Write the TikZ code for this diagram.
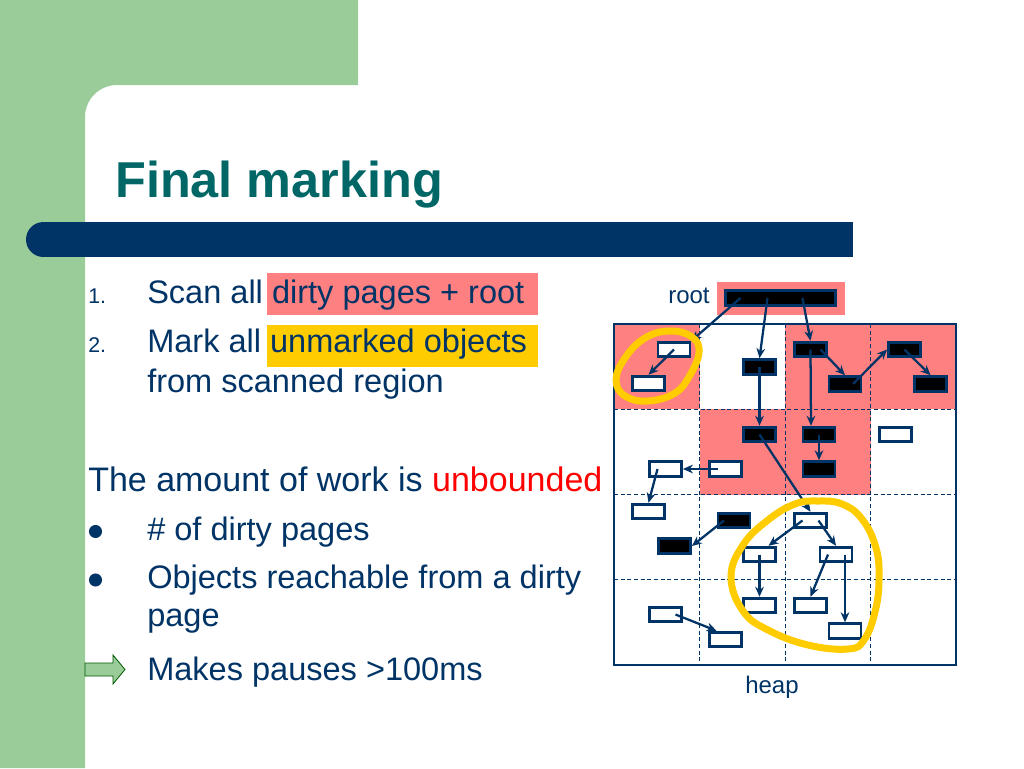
\documentclass[tikz,border=0pt]{standalone}
\usepackage{fontspec}
\setmainfont{Liberation Sans}
\usetikzlibrary{calc,arrows.meta}
\definecolor{bggreen}{HTML}{99CC99}
\definecolor{navy}{HTML}{003366}
\definecolor{titleteal}{HTML}{006666}
\definecolor{pinkhl}{HTML}{FF8080}
\definecolor{yellowhl}{HTML}{FFCC00}
\definecolor{redtxt}{HTML}{FF0000}
\begin{document}
\begin{tikzpicture}[x=0.75pt,y=-0.75pt,
  body/.style={anchor=base west, inner sep=0pt, text=navy, font=\fontsize{25.5}{30}\selectfont},
  item/.style={anchor=base west, inner sep=0pt, text=navy, font=\fontsize{24.4}{29}\selectfont},
  num/.style={anchor=base west, inner sep=0pt, text=navy, font=\fontsize{16}{19}\selectfont},
  lbl/.style={anchor=base west, inner sep=0pt, text=navy, font=\fontsize{18}{21}\selectfont},
  obj/.style={draw=navy, line width=2.1pt, minimum width=24pt, minimum height=11pt, inner sep=0pt, fill=white},
  mobj/.style={obj, fill=black},
  arr/.style={draw=navy, line width=1.7pt, -{Stealth[length=7.5pt,width=6.5pt]}},
  ring/.style={draw=yellowhl, line width=5.25pt},
  gridin/.style={draw=navy, line width=0.75pt, dash pattern=on 3pt off 2pt}]
\useasboundingbox (0,0) rectangle (1024,768);
% background
\fill[white] (0,0) rectangle (1024,768);
\fill[bggreen] (0,0) -- (358,0) -- (358,85) -- (117,85) arc[start angle=90, end angle=180, radius=24pt] -- (85,768) -- (0,768) -- cycle;
% bar
\fill[navy] (43.5,222) rectangle (853,257);
\fill[navy] (43.5,239.5) circle[radius=13.125pt];
% title
\node[anchor=base west, inner sep=0pt, text=titleteal, font=\fontsize{37.8}{44}\selectfont\bfseries] (title) at (115,197) {Final marking};
% highlights
\fill[pinkhl] (267,273) rectangle (538,315);
\fill[yellowhl] (267,325) rectangle (538,367);
% text
\node[num] (n1) at (88,303) {1.};
\node[item] (t1) at (147,303) {Scan all dirty pages + root};
\node[num] (n2) at (88,352) {2.};
\node[item] (t2) at (147,352) {Mark all unmarked objects};
\node[item] (t3) at (147,392) {from scanned region};
\node[body] (t4) at (88,491) {The amount of work is \textcolor{redtxt}{unbounded}};
\fill[navy] (95.5,531.5) circle[radius=4.9pt];
\node[item] (t5) at (147,540) {\# of dirty pages};
\fill[navy] (95.5,580) circle[radius=4.9pt];
\node[item] (t6) at (147,588) {Objects reachable from a dirty};
\node[item] (t7) at (147,626) {page};
\draw[fill=bggreen, draw=green!35!black, line width=0.6pt] (85,663) -- (113,663) -- (113,655) -- (125,669.5) -- (113,684) -- (113,676) -- (85,676) -- cycle;
\node[item] (t8) at (147,680) {Makes pauses >100ms};
% heap grid
\fill[pinkhl] (614,324) rectangle (699.5,409.25);
\fill[pinkhl] (785,324) rectangle (956,409.25);
\fill[pinkhl] (699.5,409.25) rectangle (870.5,494.5);
\draw[gridin] (699.5,324) -- (699.5,665);
\draw[gridin] (785,324) -- (785,665);
\draw[gridin] (870.5,324) -- (870.5,665);
\draw[gridin] (614,409.25) -- (956,409.25);
\draw[gridin] (614,494.5) -- (956,494.5);
\draw[gridin] (614,579.75) -- (956,579.75);
\draw[navy, line width=1.6pt] (614,324) rectangle (956,665);
% labels
\node[lbl] (rootlbl) at (668,303) {root};
\node[lbl] (heaplbl) at (745,693) {heap};
% root
\node[fill=pinkhl, minimum width=96pt, minimum height=24.75pt, inner sep=0pt] (rootbg) at (781,298.5) {};
\node[mobj, minimum width=82.5pt] (root) at (780.5,298) {};
% objects
\node[obj]  (A) at (674,349.5) {};
\node[obj]  (B) at (648.5,383.5) {};
\node[mobj] (C) at (759.5,367) {};
\node[mobj] (D) at (810.5,349.5) {};
\node[mobj] (E) at (845,384) {};
\node[mobj] (F) at (904.5,349.5) {};
\node[mobj] (G) at (930.5,384) {};
\node[mobj] (H) at (759.5,434.5) {};
\node[mobj] (I) at (819,434.5) {};
\node[obj]  (J) at (895.5,434.5) {};
\node[mobj] (K) at (819,469) {};
\node[obj]  (L) at (665.5,469) {};
\node[obj]  (M) at (725.5,469) {};
\node[obj]  (N) at (648.5,511.5) {};
\node[mobj] (O) at (734,520.5) {};
\node[mobj] (P) at (674.5,546) {};
\node[obj]  (Q) at (810.5,520.5) {};
\node[obj]  (R) at (759.5,554.5) {};
\node[obj]  (S) at (836,554.5) {};
\node[obj]  (T) at (759.5,605.5) {};
\node[obj]  (U) at (810.5,605.5) {};
\node[obj]  (V) at (845,631) {};
\node[obj]  (W) at (665.5,614.5) {};
\node[obj]  (X) at (725.5,639.5) {};
% connectors
\draw[arr] ($(root.center)+(-40,0)$) -- (A.north east);
\draw[arr] ($(root.center)+(-13,0)$) -- (C.north);
\draw[arr] ($(root.center)+(22,0)$) -- (D.north);
\draw[arr] (A.center) -- (B.north);
\draw[arr] (C.center) -- (H.north);
\draw[arr] (D.center) -- ($(I.north)+(-8,0)$);
\draw[arr] ($(D.center)+(10,0)$) -- (E.north);
\draw[arr] ($(E.center)+(8,0)$) -- (F.west);
\draw[arr] (F.center) -- (G.north);
\draw[arr] (I.center) -- (K.north);
\draw[arr] ($(M.center)+(-8,0)$) -- (L.east);
\draw[arr] ($(L.center)+(-8,0)$) -- (N.north);
\draw[arr] (H.center) -- (Q.north);
\draw[arr] ($(O.center)+(-10,0)$) -- (P.east);
\draw[arr] ($(Q.center)+(-8,0)$) -- ($(R.north)+(9,0)$);
\draw[arr] ($(Q.center)+(8,0)$) -- (S.north);
\draw[arr] (R.center) -- (T.north);
\draw[arr] ($(S.center)+(-8,0)$) -- (U.north);
\draw[arr] ($(S.center)+(9,0)$) -- (V.north);
\draw[arr] ($(W.center)+(10,0)$) -- ($(X.north)+(-9,0)$);
% rings
\draw[ring] plot[smooth cycle, tension=0.7] coordinates {(670,331) (692,337) (699,352) (690,375) (675,393) (648,401) (625,396) (616,380) (625,358) (645,338)};
\draw[ring] plot[smooth cycle, tension=0.7] coordinates {(818,501) (842,504) (862,519) (876,548) (879,580) (875,612) (864,640) (848,649) (808,645) (768,630) (743,611) (731,577) (743,545) (768,520) (795,504)};
\end{tikzpicture}
\end{document}
